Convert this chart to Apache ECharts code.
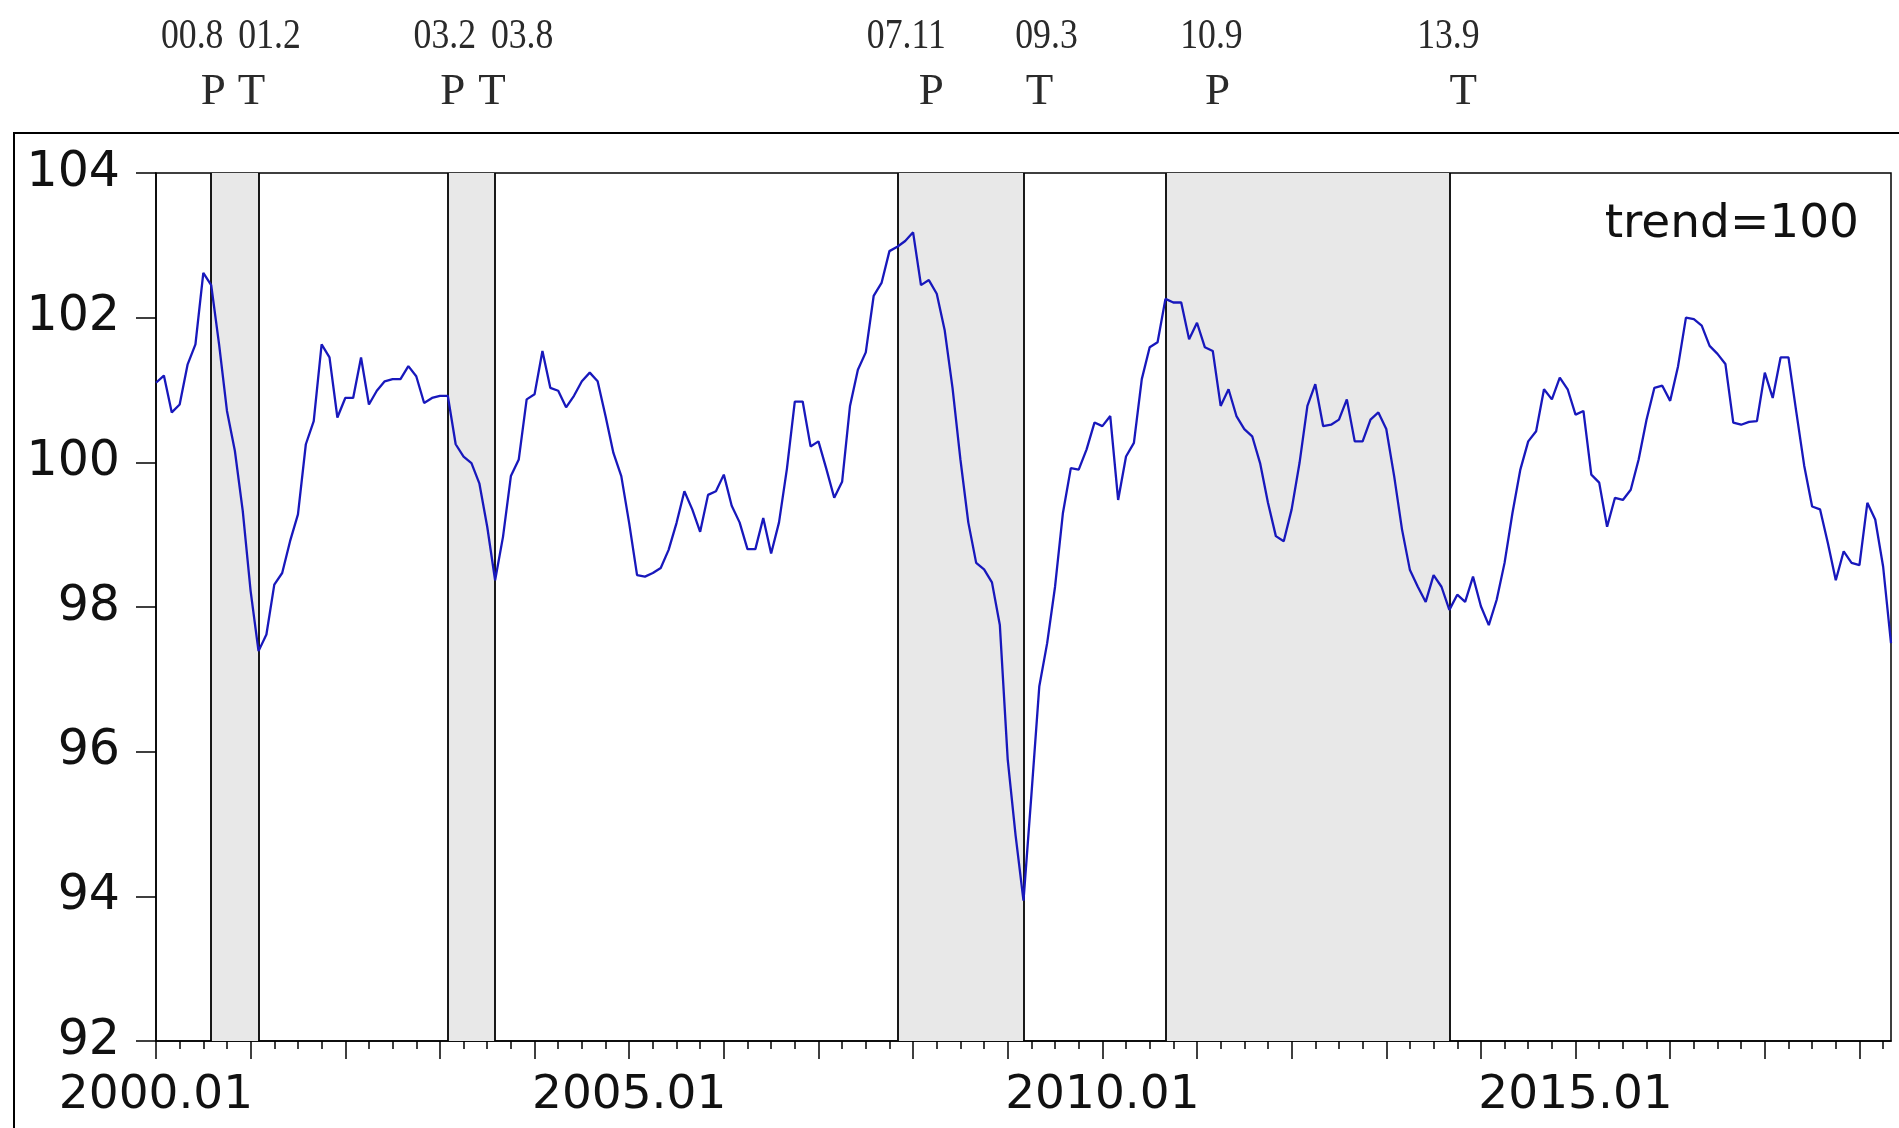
<!DOCTYPE html>
<html>
<head>
<meta charset="utf-8">
<script src="https://cdn.jsdelivr.net/npm/echarts@6/dist/echarts.min.js"></script>
<style>
html,body{margin:0;padding:0;background:#fff;}
#chart{width:1899px;height:1128px;}
</style>
</head>
<body>
<div id="chart"></div>
<script>
// ---------- data ----------
const startYear = 2000;
const monthCount = 221; // 2000.01 .. 2018.05
const months = [];
for (let i = 0; i < monthCount; i++) {
  const y = startYear + Math.floor(i / 12);
  const m = (i % 12) + 1;
  months.push(y + '.' + (m < 10 ? '0' : '') + m);
}

const v2000 = [101.10,101.20,100.69,100.80,101.35,101.63,102.62,102.45,101.63,100.71,100.16,99.33];
const v2001 = [98.22,97.39,97.62,98.31,98.47,98.91,99.28,100.25,100.57,101.63,101.45,100.62];
const v2002 = [100.89,100.89,101.45,100.80,100.99,101.12,101.15,101.15,101.33,101.19,100.82,100.89];
const v2003 = [100.92,100.92,100.25,100.08,99.99,99.71,99.11,98.37,98.97,99.81,100.04,100.87];
const v2004 = [100.94,101.54,101.03,100.99,100.76,100.92,101.12,101.24,101.12,100.64,100.13,99.81];
const v2005 = [99.16,98.44,98.42,98.47,98.54,98.79,99.16,99.60,99.35,99.04,99.55,99.60];
const v2006 = [99.83,99.40,99.17,98.80,98.80,99.23,98.74,99.17,99.91,100.84,100.84,100.22];
const v2007 = [100.29,99.91,99.51,99.73,100.78,101.28,101.52,102.30,102.48,102.92,102.98,103.06];
const v2008 = [103.18,102.45,102.52,102.33,101.83,101.03,100.04,99.17,98.61,98.52,98.34,97.75];
const v2009 = [95.89,94.84,93.94,95.40,96.90,97.50,98.28,99.30,99.92,99.90,100.18,100.55];
const v2010 = [100.50,100.64,99.48,100.08,100.27,101.15,101.59,101.66,102.26,102.21,102.21,101.70];
const v2011 = [101.93,101.59,101.54,100.78,101.01,100.64,100.46,100.36,99.99,99.44,98.98,98.91];
const v2012 = [99.35,99.99,100.78,101.08,100.50,100.52,100.59,100.87,100.29,100.29,100.59,100.69];
const v2013 = [100.46,99.81,99.07,98.51,98.28,98.07,98.44,98.28,97.96,98.17,98.07,98.42];
const v2014 = [98.01,97.75,98.10,98.61,99.30,99.90,100.29,100.43,101.01,100.87,101.17,101.01];
const v2015 = [100.66,100.71,99.83,99.72,99.11,99.51,99.48,99.62,100.04,100.59,101.03,101.06];
const v2016 = [100.85,101.33,102.00,101.98,101.89,101.61,101.50,101.36,100.55,100.52,100.56,100.57];
const v2017 = [101.24,100.89,101.45,101.45,100.69,99.95,99.39,99.35,98.88,98.37,98.77,98.61];
const v2018 = [98.58,99.44,99.21,98.56,97.50];

const values = [].concat(v2000,v2001,v2002,v2003,v2004,v2005,v2006,v2007,v2008,v2009,
                         v2010,v2011,v2012,v2013,v2014,v2015,v2016,v2017,v2018);

const turnLabels = ['00.8','01.2','03.2','03.8','07.11','09.3','10.9','13.9'];
const turnTypes  = ['P','T','P','T','P','T','P','T'];

const yMin = 92, yMax = 104, yStep = 2;
const legendText = 'trend=100';

// ---------- layout (not data) ----------
const dateOffsets   = [-19, 11, -3, 27, 9, 23, 46, -1];
const letterOffsets = [2, -7, 5, -3, 34, 16, 52, 14];

function turnIndex(lbl) {
  const p = lbl.split('.');
  return (parseInt(p[0], 10)) * 12 + parseInt(p[1], 10) - 1;
}
const turnIdx = turnLabels.map(turnIndex);

const bands = [];
for (let i = 0; i + 1 < turnIdx.length; i += 2) {
  bands.push([{ xAxis: months[turnIdx[i]] }, { xAxis: months[turnIdx[i + 1]] }]);
}
const vlines = turnIdx.map(i => ({ xAxis: months[i] }));

const axisFont = 'DejaVu Sans';
const chart = echarts.init(document.getElementById('chart'), null, { renderer: 'canvas' });

chart.setOption({
  animation: false,
  backgroundColor: '#ffffff',
  grid: {
    left: 156, right: 8, top: 173, bottom: 87,
    show: true, borderColor: '#000', borderWidth: 1.5, backgroundColor: '#fff'
  },
  xAxis: [{
    type: 'category', data: months, boundaryGap: false, position: 'bottom',
    axisLine: { show: true, lineStyle: { color: '#000', width: 1.5 } },
    axisTick: { show: true, length: 18, interval: (i) => i % 12 === 0, lineStyle: { color: '#000', width: 1.5 } },
    axisLabel: { show: true, interval: (i) => i % 60 === 0, margin: 31,
      fontFamily: axisFont, fontSize: 47, color: '#111' },
    splitLine: { show: false }
  }, {
    type: 'category', data: months, boundaryGap: false, position: 'bottom',
    axisLine: { show: false },
    axisTick: { show: true, length: 8, interval: (i) => i % 3 === 0, lineStyle: { color: '#000', width: 1.5 } },
    axisLabel: { show: false },
    splitLine: { show: false }
  }],
  yAxis: {
    type: 'value', min: yMin, max: yMax, interval: yStep,
    axisLine: { show: true, lineStyle: { color: '#000', width: 1.5 } },
    axisTick: { show: true, length: 20, lineStyle: { color: '#000', width: 1.5 } },
    axisLabel: { margin: 36, fontFamily: axisFont, fontSize: 49, color: '#111' },
    splitLine: { show: false }
  },
  series: [{
    name: 'phases', type: 'line', data: [], z: 1, silent: true,
    markArea: { silent: true, itemStyle: { color: '#e8e8e8' }, data: bands },
    markLine: { silent: true, symbol: ['none', 'none'], label: { show: false },
      lineStyle: { color: '#000', width: 1.8, type: 'solid' }, data: vlines }
  }, {
    name: 'index', type: 'line', data: values, z: 5,
    showSymbol: false, symbol: 'none',
    lineStyle: { color: '#1818bc', width: 2.3 }
  }]
});

// annotations placed from the axis scale
const graphics = [{
  type: 'rect', silent: true, z: 100,
  shape: { x: 14, y: 133, width: 1900, height: 1100 },
  style: { fill: 'none', stroke: '#000', lineWidth: 2 }
}, {
  type: 'text', silent: true, z: 100, x: 1859, y: 225,
  style: { text: legendText, font: '47px "DejaVu Sans"', fill: '#111',
    textAlign: 'right', textVerticalAlign: 'middle', align: 'right', verticalAlign: 'middle' }
}];
turnIdx.forEach((idx, k) => {
  const px = chart.convertToPixel({ xAxisIndex: 0 }, months[idx]);
  graphics.push({
    type: 'text', silent: true, z: 100, x: px + dateOffsets[k], y: 37, scaleX: 0.85,
    style: { text: turnLabels[k], font: '42px "Liberation Serif"', fill: '#2a2a2a',
      textAlign: 'center', textVerticalAlign: 'middle', align: 'center', verticalAlign: 'middle' }
  });
  graphics.push({
    type: 'text', silent: true, z: 100, x: px + letterOffsets[k], y: 92,
    style: { text: turnTypes[k], font: '45px "Liberation Serif"', fill: '#2a2a2a',
      textAlign: 'center', textVerticalAlign: 'middle', align: 'center', verticalAlign: 'middle' }
  });
});
chart.setOption({ graphic: graphics });
</script>
</body>
</html>
